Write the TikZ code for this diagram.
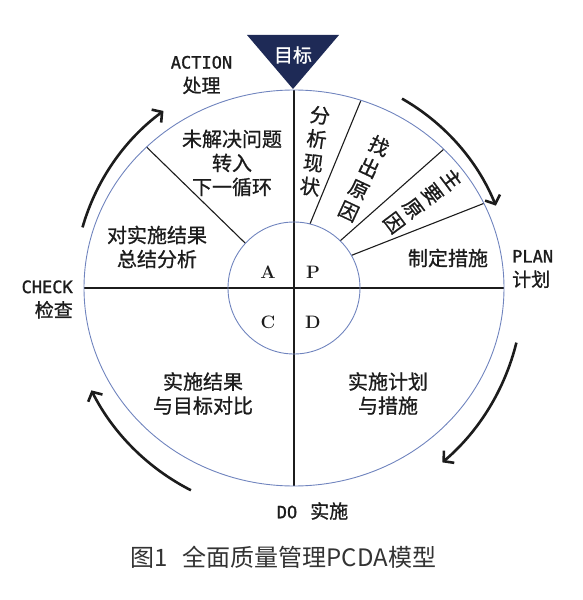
\documentclass[tikz,border=0pt]{standalone}
\usepackage{fontspec}
\newfontfamily\cjk[FakeBold=0.9]{Noto Sans CJK SC}
\newfontfamily\cjklight{Noto Sans CJK SC}
\newfontfamily\mono[FakeBold=1.2]{DejaVu Sans Mono}
\usepackage{tikz}
\usetikzlibrary{arrows.meta}
\definecolor{ringblue}{RGB}{112,132,190}
\definecolor{navy}{RGB}{30,42,86}
\definecolor{ink}{RGB}{28,28,28}
\tikzset{
  ring/.style={draw=ringblue,line width=0.9pt},
  divider/.style={line width=1.1pt,ink},
  steptext/.style={font=\cjk\fontsize{20}{24}\selectfont,align=center,inner sep=0pt,text=ink},
  phase/.style={font=\cjk\fontsize{19}{24}\selectfont,inner sep=0pt,text=ink},
  letter/.style={font=\rmfamily\bfseries\fontsize{18}{20}\selectfont,inner sep=0pt,text=ink},
  turnarrow/.style={-{Straight Barb[length=7pt,width=16pt]},line width=2.6pt,ink}
}
\newcommand\phaseword[1]{{\mono\fontsize{17}{24}\selectfont #1}}

\begin{document}
\begin{tikzpicture}[x=1pt,y=1pt]
  \useasboundingbox (-294,-312) rectangle (289,288);
  % wheel
  \draw[divider] (0,198) -- (0,-198);
  \draw[divider] (-210,0) -- (210,0);
  \foreach \a/\t in {137.4/134.6,76/71.4,45.6/44.5,29.6/25.3}
    \draw[divider] (\a:66pt) -- ({210*cos(\t)},{198*sin(\t)});
  \draw[ring] (0,0) ellipse [x radius=210pt,y radius=198pt];
  \draw[ring] (0,0) circle [radius=66pt];
  % goal
  \fill[navy] (-47,253) -- (45,253) -- (-1,199) -- cycle;
  \node[font=\cjk\fontsize{19}{22}\selectfont,text=white] (goal) at (-1,233) {目标};
  % quadrant letters
  \node[letter] (lA) at (-26,16) {A};
  \node[letter] (lP) at (19,16) {P};
  \node[letter] (lC) at (-26,-34) {C};
  \node[letter] (lD) at (19,-34) {D};
  % sector texts
  \node[steptext] (unsolved) at (-62,125) {未解决问题\\转入\\下一循环};
  \node[steptext] (summary) at (-137,41) {对实施结果\\总结分析};
  \node[steptext,rotate=-8] (status) at (21,137) {分\\析\\现\\状};
  \node[steptext,rotate=-25] (causes) at (70,109.5) {找\\出\\原\\因};
  \node[steptext,rotate=-53] (maincause) at (129,87) {主\\要\\原\\因};
  \node[steptext] (measures) at (154,30) {制定措施};
  \node[steptext] (doplan) at (94,-105.5) {实施计划\\与措施};
  \node[steptext] (compare) at (-91,-105.5) {实施结果\\与目标对比};
  % phases
  \node[phase,align=center] (act) at (-92.5,213) {\phaseword{ACTION}\\处理};
  \node[phase,align=right,anchor=east] (chk) at (-221,-11.5) {\phaseword{CHECK}\\检查};
  \node[phase,align=left,anchor=west] (pln) at (218,19) {\phaseword{PLAN}\\计划};
  \node[phase] (do) at (18.5,-223) {\phaseword{DO}\hspace{13pt}实施};
  % cycle arrows
  \draw[turnarrow] (164:220pt) arc [start angle=164,end angle=126.4,radius=220pt];
  \draw[turnarrow] (60.3:218pt) arc [start angle=60.3,end angle=22.2,radius=218pt];
  \draw[turnarrow] (-13.8:229pt) arc [start angle=-13.8,end angle=-49.6,radius=229pt];
  \draw[turnarrow] (-117:227pt) arc [start angle=-117,end angle=-153.2,radius=227pt];
  % caption
  \node[font=\cjklight\fontsize{24}{28}\selectfont,text=black!80] (caption) at (-10.5,-269)
    {图1\hspace{0.6em}全面质量管理PCDA模型};
\end{tikzpicture}
\end{document}
